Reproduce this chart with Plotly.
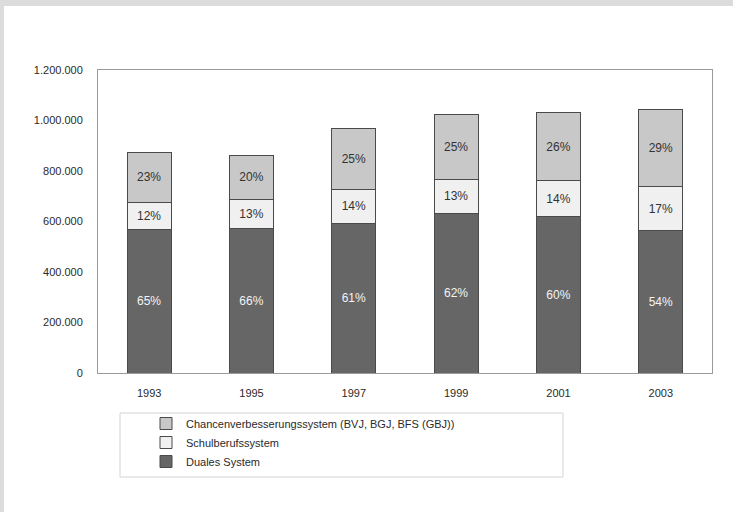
import plotly.graph_objects as go

# Jahre und Gesamtzahl der Neuzugänge je Jahr
years = ["1993", "1995", "1997", "1999", "2001", "2003"]
totals = [875000, 870000, 970000, 1022000, 1030000, 1042000]

# Anteile der drei Teilsysteme in Prozent
pct_dual = [65, 66, 61, 62, 60, 54]
pct_school = [12, 13, 14, 13, 14, 17]
pct_chance = [23, 20, 25, 25, 26, 29]

series_names = [
    "Duales System",
    "Schulberufssystem",
    "Chancenverbesserungssystem (BVJ, BGJ, BFS (GBJ))",
]
y_ticks = [0, 200000, 400000, 600000, 800000, 1000000, 1200000]

W, H = 733, 512
L, R, T, B = 98, 712, 70, 373  # plot area in pixels


def px_x(x):
    return (x - L) / (R - L)


def px_y(y):
    return (B - y) / (B - T)


fills = ["#666666", "#f0f0f0", "#c8c8c8"]
text_colors = ["#f4f4f4", "#333333", "#333333"]
shares = [pct_dual, pct_school, pct_chance]

fig = go.Figure()
for name, share, fill, tcol in zip(series_names, shares, fills, text_colors):
    values = [t * p / 100 for t, p in zip(totals, share)]
    fig.add_trace(go.Bar(
        x=years,
        y=values,
        name=name,
        width=0.43,
        marker=dict(color=fill, line=dict(color="#4a4a4a", width=1)),
        text=[f"{p}%" for p in share],
        textposition="inside",
        insidetextanchor="middle",
        textfont=dict(family="Liberation Sans, Arial, sans-serif", size=12, color=tcol),
        textangle=0,
        constraintext="none",
        hoverinfo="skip",
    ))

shapes = [
    # white page over the grey frame
    dict(type="rect", xref="paper", yref="paper", layer="below",
         x0=px_x(4), x1=px_x(W + 2), y0=px_y(H + 2), y1=px_y(6),
         fillcolor="white", line=dict(width=0)),
    # legend box
    dict(type="rect", xref="paper", yref="paper", layer="below",
         x0=px_x(120), x1=px_x(563), y0=px_y(477), y1=px_y(413),
         fillcolor="white", line=dict(color="#d4d4d4", width=1)),
]

font = dict(family="Liberation Sans, Arial, sans-serif", size=11, color="#2a2a2a")

fig.update_layout(
    width=W, height=H,
    margin=dict(l=L, r=W - R, t=T, b=H - B),
    paper_bgcolor="#dcdcdc",
    plot_bgcolor="white",
    barmode="stack",
    separators=",.",
    font=font,
    shapes=shapes,
    showlegend=True,
    legend=dict(
        traceorder="reversed",
        x=px_x(146), xanchor="left",
        y=px_y(409), yanchor="top",
        bgcolor="rgba(0,0,0,0)",
        font=dict(family="Liberation Sans, Arial, sans-serif", size=11, color="#2a2a2a"),
        itemwidth=30,
        tracegroupgap=0,
    ),
    xaxis=dict(
        type="category",
        range=[-0.5, 5.5],
        showline=True, mirror=True, linecolor="#9a9a9a", linewidth=1,
        ticks="", ticklabelstandoff=10,
        showgrid=False, zeroline=False,
    ),
    yaxis=dict(
        range=[0, 1200000],
        tickvals=y_ticks,
        tickformat=",d",
        showline=True, mirror=True, linecolor="#9a9a9a", linewidth=1,
        ticks="", ticklabelstandoff=12,
        showgrid=False, zeroline=False,
    ),
)

fig.write_html("out.html")
